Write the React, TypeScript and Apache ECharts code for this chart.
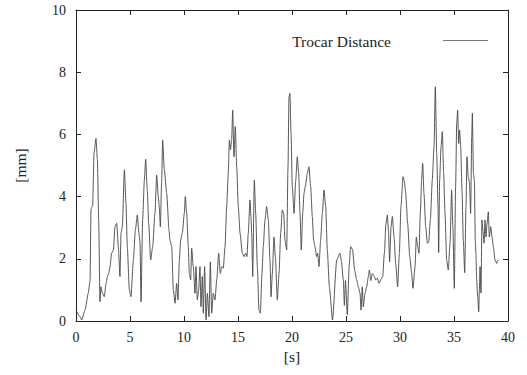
import React, { useEffect, useRef } from "react";
import * as echarts from "echarts";

const times = [
  0, 0.37, 0.53, 0.83, 1.14, 1.3, 1.39, 1.54, 1.67, 1.85, 1.98, 2.1, 2.22, 2.31, 2.44, 2.62, 2.78, 2.9, 3.02, 3.15,
  3.3, 3.46, 3.61, 3.77, 3.92, 4.07, 4.17, 4.29, 4.48, 4.63, 4.75, 4.94, 5.09, 5.31, 5.5, 5.68, 5.83, 5.93, 6.02, 6.17,
  6.33, 6.45, 6.6, 6.73, 6.91, 7.1, 7.31, 7.47, 7.62, 7.71, 7.81, 7.93, 8.02, 8.18, 8.4, 8.61, 8.7, 8.86, 9.01, 9.17,
  9.32, 9.44, 9.57, 9.69, 9.84, 10.03, 10.12, 10.25, 10.4, 10.49, 10.62, 10.71, 10.86, 11.02, 11.11, 11.23, 11.36, 11.48, 11.57, 11.7,
  11.79, 11.91, 12.04, 12.16, 12.31, 12.44, 12.56, 12.71, 12.87, 13.03, 13.21, 13.36, 13.49, 13.64, 13.8, 13.95, 14.1, 14.2, 14.3, 14.41,
  14.51, 14.63, 14.75, 14.88, 15.03, 15.19, 15.4, 15.56, 15.71, 15.83, 15.95, 16.11, 16.2, 16.27, 16.36, 16.51, 16.64, 16.79, 16.94, 17.07,
  17.22, 17.34, 17.5, 17.65, 17.81, 17.96, 18.06, 18.18, 18.33, 18.46, 18.64, 18.8, 18.95, 19.1, 19.23, 19.35, 19.51, 19.63, 19.72, 19.81,
  19.91, 20.03, 20.19, 20.34, 20.49, 20.62, 20.74, 20.86, 20.99, 21.11, 21.23, 21.42, 21.57, 21.73, 21.88, 22.0, 22.13, 22.28, 22.38, 22.5,
  22.65, 22.81, 22.96, 23.12, 23.27, 23.46, 23.75, 24.14, 24.44, 24.58, 24.75, 24.85, 24.95, 25.12, 25.3, 25.43, 25.6, 25.8, 25.99, 26.14,
  26.3, 26.39, 26.51, 26.6, 26.76, 26.92, 27.07, 27.16, 27.3, 27.44, 27.6, 27.75, 27.9, 28.06, 28.25, 28.4, 28.55, 28.7, 28.83, 28.93,
  29.04, 29.17, 29.29, 29.45, 29.6, 29.78, 29.94, 30.09, 30.28, 30.4, 30.53, 30.71, 30.9, 31.08, 31.2, 31.39, 31.51, 31.63, 31.76, 31.88,
  32.0, 32.1, 32.22, 32.38, 32.53, 32.66, 32.81, 32.99, 33.15, 33.27, 33.4, 33.52, 33.58, 33.67, 33.8, 33.92, 34.04, 34.17, 34.32, 34.47,
  34.63, 34.78, 34.9, 35.03, 35.15, 35.25, 35.34, 35.43, 35.52, 35.62, 35.74, 35.86, 35.99, 36.11, 36.2, 36.32, 36.43, 36.54, 36.64, 36.7,
  36.8, 36.89, 36.97, 37.03, 37.1, 37.19, 37.29, 37.35, 37.41, 37.5, 37.59, 37.68, 37.78, 37.87, 37.96, 38.05, 38.18, 38.27, 38.4, 38.52,
  38.64, 38.8, 38.95, 39.05,
];

const distance = [
  0.35, 0.14, 0.03, 0.35, 0.9, 1.3, 3.6, 3.7, 5.4, 5.87, 5.2, 3.25, 0.62, 1.1, 0.9, 0.78, 1.2, 1.42, 1.53, 1.75,
  2.18, 2.28, 3.03, 3.14, 2.39, 1.43, 2.82, 3.03, 4.86, 3.78, 2.39, 1.0, 0.78, 1.96, 2.93, 3.41, 2.82, 2.5, 0.62, 3.25,
  4.53, 5.2, 4.21, 3.14, 1.96, 2.39, 3.46, 4.69, 4.0, 3.68, 3.03, 4.48, 5.82, 4.86, 4.1, 2.93, 2.6, 2.39, 1.0, 0.57,
  1.21, 0.68, 1.96, 2.6, 2.82, 3.46, 4.0, 3.46, 2.39, 1.53, 1.32, 2.34, 1.75, 0.89, 1.75, 0.68, 1.0, 1.75, 0.46, 1.43,
  0.25, 1.75, 0.03, 0.89, 0.14, 1.9, 0.25, 0.89, 0.68, 1.32, 2.18, 1.53, 1.75, 1.7, 2.39, 3.68, 4.75, 5.82, 5.5, 5.82,
  6.78, 5.28, 6.25, 4.96, 3.68, 2.82, 2.18, 2.07, 2.18, 2.07, 2.82, 3.89, 3.36, 2.82, 1.43, 4.53, 3.46, 1.75, 0.35, 0.25,
  1.53, 2.39, 3.25, 3.68, 3.25, 1.96, 0.78, 1.53, 2.7, 2.07, 0.68, 1.53, 2.82, 3.57, 3.46, 2.6, 2.28, 4.96, 7.21, 7.32,
  6.03, 4.32, 3.46, 4.5, 5.28, 4.75, 3.46, 2.28, 3.46, 4.1, 4.32, 4.75, 4.96, 4.32, 3.36, 2.6, 2.39, 2.07, 2.18, 1.75,
  2.6, 3.46, 4.21, 3.68, 2.28, 1.1, 0.03, 1.96, 2.18, 1.9, 1.32, 0.5, 1.3, 0.2, 1.8, 2.39, 2.3, 1.64, 1.32, 1.1,
  0.89, 0.35, 1.1, 0.46, 0.89, 1.1, 1.43, 1.64, 1.3, 1.53, 1.45, 1.32, 1.38, 1.21, 1.35, 1.43, 2.18, 3.14, 3.41, 2.9,
  1.9, 3.03, 3.36, 2.7, 1.85, 1.1, 2.18, 3.68, 4.64, 4.5, 4.1, 3.14, 2.07, 1.53, 1.05, 1.75, 2.7, 2.4, 2.18, 3.46,
  4.53, 5.07, 4.1, 3.03, 2.5, 2.55, 3.25, 4.53, 5.6, 7.53, 5.39, 3.68, 2.2, 4.53, 5.6, 6.09, 4.75, 3.46, 1.96, 1.64,
  2.5, 4.21, 3.0, 1.05, 4.32, 6.36, 6.78, 5.71, 6.14, 5.6, 4.21, 2.6, 1.55, 3.68, 5.28, 4.64, 4.45, 3.46, 5.93, 6.68,
  4.75, 4.5, 2.6, 2.18, 1.32, 0.78, 0.3, 1.0, 1.75, 0.9, 3.25, 2.9, 2.5, 3.25, 2.7, 3.1, 3.51, 2.7, 3.03, 2.7,
  2.39, 1.96, 1.85, 1.96,
];

const xTicks = { min: 0, max: 40, interval: 5 };
const yTicks = { min: 0, max: 10, interval: 2 };
const seriesName = "Trocar Distance";
const xName = "[s]";
const yName = "[mm]";

const FONT = "'Liberation Serif', 'DejaVu Serif', serif";
const FRAME = "#222";

export default function App() {
  const ref = useRef<HTMLDivElement>(null);

  useEffect(() => {
    document.body.style.margin = "0";
    if (!ref.current) return;
    const chart = echarts.init(ref.current, undefined, { renderer: "svg" });
    const data = times.map((t, i) => [t, distance[i]]);

    const baseAxisLine = { show: true, onZero: false, lineStyle: { color: FRAME, width: 1 } };
    const baseTick = { show: true, inside: true, length: 5, lineStyle: { color: FRAME, width: 1 } };

    chart.setOption({
      animation: false,
      backgroundColor: "#fff",
      grid: { left: 76, right: 19, top: 10, bottom: 54, containLabel: false },
      xAxis: [
        {
          type: "value",
          ...xTicks,
          position: "bottom",
          name: xName,
          nameLocation: "middle",
          nameGap: 25,
          nameTextStyle: { fontFamily: FONT, fontSize: 15.5, color: "#222" },
          axisLine: baseAxisLine,
          axisTick: baseTick,
          splitLine: { show: false },
          axisLabel: { fontFamily: FONT, fontSize: 14, color: "#222", margin: 9 },
        },
        {
          type: "value",
          ...xTicks,
          position: "top",
          axisLine: baseAxisLine,
          axisTick: baseTick,
          splitLine: { show: false },
          axisLabel: { show: false },
        },
      ],
      yAxis: [
        {
          type: "value",
          ...yTicks,
          position: "left",
          name: yName,
          nameLocation: "middle",
          nameRotate: 90,
          nameGap: 48,
          nameTextStyle: { fontFamily: FONT, fontSize: 15.5, color: "#222" },
          axisLine: baseAxisLine,
          axisTick: baseTick,
          splitLine: { show: false },
          axisLabel: { fontFamily: FONT, fontSize: 14, color: "#222", margin: 10 },
        },
        {
          type: "value",
          ...yTicks,
          position: "right",
          axisLine: baseAxisLine,
          axisTick: baseTick,
          splitLine: { show: false },
          axisLabel: { show: false },
        },
      ],
      series: [
        {
          name: seriesName,
          type: "line",
          data,
          xAxisIndex: 0,
          yAxisIndex: 0,
          showSymbol: false,
          symbol: "none",
          smooth: 0.2,
          smoothMonotone: "x",
          clip: true,
          lineStyle: { color: "#444", width: 0.9 },
        },
      ],
      graphic: [
        {
          type: "text",
          x: 391,
          y: 41,
          style: {
            text: seriesName,
            fontFamily: FONT,
            fontSize: 15.5,
            fill: "#222",
            textAlign: "right",
            textVerticalAlign: "middle",
          },
        },
        {
          type: "line",
          shape: { x1: 443, y1: 40.5, x2: 488, y2: 40.5 },
          style: { stroke: "#777", lineWidth: 1 },
        },
      ],
    });

    return () => chart.dispose();
  }, []);

  return <div ref={ref} style={{ width: 527, height: 375 }} />;
}
